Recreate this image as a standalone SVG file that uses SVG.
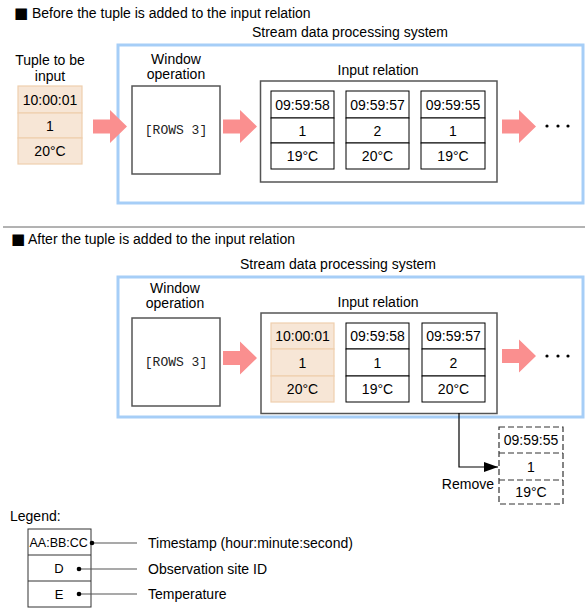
<svg xmlns="http://www.w3.org/2000/svg" width="588" height="611" viewBox="0 0 588 611">
<style>
text{font-family:"Liberation Sans",Arial,"DejaVu Sans",sans-serif;font-size:14px;fill:#000}
.c{text-anchor:middle}
.sq{font-family:"DejaVu Sans",sans-serif;font-size:15px}
.mono{font-family:"Liberation Mono","Courier New",monospace;font-size:13px;fill:#222}
.sys{fill:none;stroke:#A6CEF7;stroke-width:3}
.op{fill:#fff;stroke:#555;stroke-width:1.5}
.rel{fill:#fff;stroke:#555;stroke-width:1.5}
.cell{fill:#fff;stroke:#000;stroke-width:1}
.new{fill:#F7E6D6;stroke:#EFCFAE;stroke-width:1.2}
.dash{fill:#fff;stroke:#333;stroke-width:1.2;stroke-dasharray:6 3}
.big{fill:#FA8F8F}
.leg{stroke:#555;stroke-width:1.2;fill:none}
.sep{stroke:#666;stroke-width:1}
</style>
<defs>
<path id="bigArrow" class="big" d="M0,-7 H17 V-16.5 L34,0 L17,16.5 V7 H0 Z"/>
<marker id="ah" markerWidth="14" markerHeight="10" refX="14" refY="5" orient="auto" markerUnits="userSpaceOnUse">
<path d="M0,0 L14,5 L0,10 Z" fill="#000"/>
</marker>
</defs>

<!-- Section 1 -->
<g id="title1"><text x="14" y="18"><tspan class="sq">■</tspan><tspan x="32">Before the tuple is added to the input relation</tspan></text></g>

<g id="tuple-input">
<text class="c" x="50" y="65">Tuple to be</text>
<text class="c" x="50" y="81">input</text>
<rect class="new" x="18" y="86" width="64" height="27"/>
<rect class="new" x="18" y="113" width="64" height="25"/>
<rect class="new" x="18" y="138" width="64" height="26"/>
<text class="c" x="50" y="104.5">10:00:01</text>
<text class="c" x="50" y="130.5">1</text>
<text class="c" x="50" y="156">20°C</text>
</g>

<g id="system1">
<rect class="sys" x="118" y="45" width="465" height="158"/>
<text class="c" x="350" y="37">Stream data processing system</text>
</g>

<g id="window1">
<text class="c" x="176" y="64">Window</text>
<text class="c" x="176" y="79">operation</text>
<rect class="op" x="132" y="86" width="88" height="88"/>
<text class="c mono" x="176" y="134">[ROWS 3]</text>
</g>

<g id="relation1">
<text class="c" x="378" y="75">Input relation</text>
<rect class="rel" x="260.5" y="81" width="236.5" height="101"/>
<rect class="cell" x="271" y="91" width="63" height="27"/>
<rect class="cell" x="271" y="118" width="63" height="25"/>
<rect class="cell" x="271" y="143" width="63" height="26"/>
<text class="c" x="302.5" y="109.5">09:59:58</text>
<text class="c" x="302.5" y="135.5">1</text>
<text class="c" x="302.5" y="161">19°C</text>
<rect class="cell" x="346" y="91" width="63" height="27"/>
<rect class="cell" x="346" y="118" width="63" height="25"/>
<rect class="cell" x="346" y="143" width="63" height="26"/>
<text class="c" x="377.5" y="109.5">09:59:57</text>
<text class="c" x="377.5" y="135.5">2</text>
<text class="c" x="377.5" y="161">20°C</text>
<rect class="cell" x="421" y="91" width="64" height="27"/>
<rect class="cell" x="421" y="118" width="64" height="25"/>
<rect class="cell" x="421" y="143" width="64" height="26"/>
<text class="c" x="453" y="109.5">09:59:55</text>
<text class="c" x="453" y="135.5">1</text>
<text class="c" x="453" y="161">19°C</text>
</g>

<g id="more1">
<circle cx="547" cy="126" r="1.6"/><circle cx="558" cy="126" r="1.6"/><circle cx="568" cy="126" r="1.6"/>
</g>

<line class="sep" x1="3" y1="227" x2="585" y2="227"/>

<!-- Section 2 -->
<g id="title2"><text x="11" y="243.5"><tspan class="sq">■</tspan><tspan x="28">After the tuple is added to the input relation</tspan></text></g>

<g id="system2">
<rect class="sys" x="118" y="277" width="465" height="140"/>
<text class="c" x="338" y="269">Stream data processing system</text>
</g>

<g id="window2">
<text class="c" x="175" y="293">Window</text>
<text class="c" x="175" y="308">operation</text>
<rect class="op" x="132" y="318" width="88" height="88"/>
<text class="c mono" x="176" y="366">[ROWS 3]</text>
</g>

<g id="relation2">
<text class="c" x="378" y="307">Input relation</text>
<rect class="rel" x="261" y="313" width="236" height="100.5"/>
<rect class="new" x="271" y="323" width="63" height="26"/>
<rect class="new" x="271" y="349" width="63" height="27"/>
<rect class="new" x="271" y="376" width="63" height="26"/>
<text class="c" x="302.5" y="341">10:00:01</text>
<text class="c" x="302.5" y="367.5">1</text>
<text class="c" x="302.5" y="394">20°C</text>
<rect class="cell" x="346" y="323" width="63" height="26"/>
<rect class="cell" x="346" y="349" width="63" height="27"/>
<rect class="cell" x="346" y="376" width="63" height="26"/>
<text class="c" x="377.5" y="341">09:59:58</text>
<text class="c" x="377.5" y="367.5">1</text>
<text class="c" x="377.5" y="394">19°C</text>
<rect class="cell" x="422" y="323" width="63" height="26"/>
<rect class="cell" x="422" y="349" width="63" height="27"/>
<rect class="cell" x="422" y="376" width="63" height="26"/>
<text class="c" x="453.5" y="341">09:59:57</text>
<text class="c" x="453.5" y="367.5">2</text>
<text class="c" x="453.5" y="394">20°C</text>
</g>

<g id="more2">
<circle cx="547" cy="356" r="1.6"/><circle cx="558" cy="356" r="1.6"/><circle cx="568" cy="356" r="1.6"/>
</g>

<g id="removed">
<rect class="dash" x="499" y="427" width="64" height="77"/>
<line class="dash" x1="499" y1="453" x2="563" y2="453"/>
<line class="dash" x1="499" y1="480" x2="563" y2="480"/>
<text class="c" x="531" y="445">09:59:55</text>
<text class="c" x="531" y="471.5">1</text>
<text class="c" x="531" y="497">19°C</text>
</g>

<g id="connectors">
<use href="#bigArrow" x="93" y="126.5"/>
<use href="#bigArrow" x="223" y="126.5"/>
<use href="#bigArrow" x="502" y="126.5"/>
<use href="#bigArrow" x="223" y="358"/>
<use href="#bigArrow" x="502" y="356"/>
<polyline points="459,413 459,467 498,467" fill="none" stroke="#000" stroke-width="1.2" marker-end="url(#ah)"/>
<text x="494" y="489" style="text-anchor:end">Remove</text>
</g>

<!-- Legend -->
<g id="legend">
<text x="10" y="521">Legend:</text>
<rect x="28" y="529" width="63" height="78" fill="#fff" stroke="#333" stroke-width="1"/>
<line x1="28" y1="555" x2="91" y2="555" stroke="#333"/>
<line x1="28" y1="581" x2="91" y2="581" stroke="#333"/>
<text x="29.5" y="547" style="font-size:12.5px">AA:BB:CC</text>
<text class="c" x="59" y="573" style="font-size:13px">D</text>
<text class="c" x="59" y="599" style="font-size:13px">E</text>
<line class="leg" x1="92" y1="543" x2="137" y2="543"/>
<line class="leg" x1="79" y1="569" x2="137" y2="569"/>
<line class="leg" x1="79" y1="594" x2="137" y2="594"/>
<circle cx="92" cy="543" r="2.3"/>
<circle cx="79" cy="569" r="2.3"/>
<circle cx="79" cy="594" r="2.3"/>
<text x="148" y="548">Timestamp (hour:minute:second)</text>
<text x="148" y="574">Observation site ID</text>
<text x="148" y="599">Temperature</text>
</g>
</svg>
